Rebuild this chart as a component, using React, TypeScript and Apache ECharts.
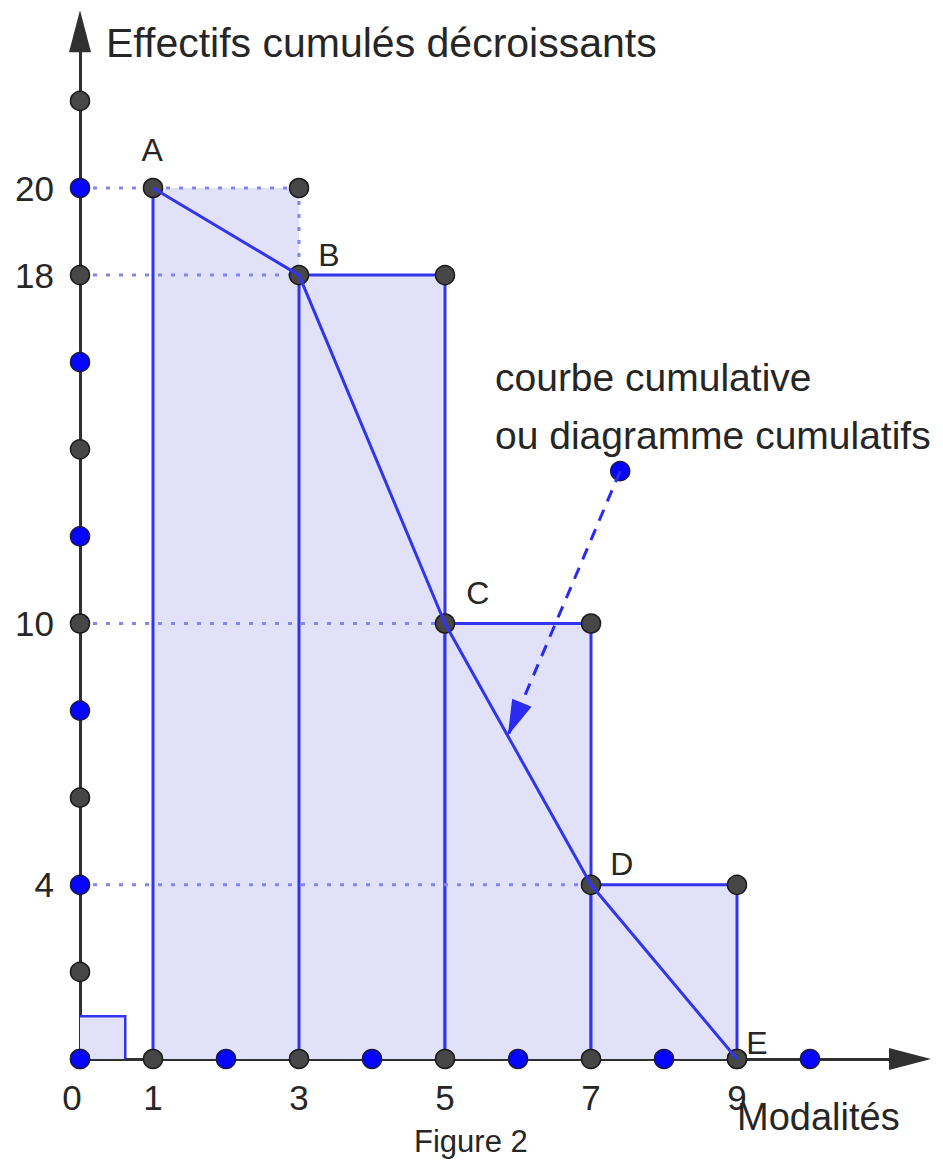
import React, { useEffect, useRef } from "react";
import * as echarts from "echarts";

// ---------- data ----------
const classBounds = [1, 3, 5, 7, 9];
const cumCounts = [20, 18, 10, 4, 0];
const pointNames = ["A", "B", "C", "D", "E"];
const xTickLabels = [0, 1, 3, 5, 7, 9];
const yTickLabels = [20, 18, 10, 4];
const xAxisDots = [0, 1, 2, 3, 4, 5, 6, 7, 8, 9, 10];
const yAxisDots = [0, 2, 4, 6, 8, 10, 12, 14, 16, 18, 20, 22];
const annotationPoint = [7.4, 13.5];
const arrowTarget = [5.86, 7.42];
const yAxisTitle = "Effectifs cumulés décroissants";
const xAxisTitle = "Modalités";
const annotationLines = ["courbe cumulative", "ou diagramme cumulatifs"];
const figureCaption = "Figure 2";

// ---------- layout / style ----------
const ORIGIN_X = 80;
const ORIGIN_Y = 1059;
const PX_X = 73;
const PX_Y = 43.55;
const X_MAX = 11.37;
const Y_MAX = 23.6;
const RIGHT_ANGLE = [0.62, 0.98];
const FONT = "'Liberation Sans', Arial, Helvetica, sans-serif";
const BLUE = "#3434ef";
const FILL = "#e1e1f9";
const GUIDE = "#8585ee";
const DARK = "#474747";
const DOT_BLUE = "#0505ff";
const TEXT = "#262626";
// label offsets (px) relative to point centre: [dx, dy, align]
const LABEL_OFFSETS: [number, number, string][] = [
  [0, -37, "center"],
  [20, -19, "left"],
  [22, -30, "left"],
  [20, -20, "left"],
  [10, -15, "left"],
];
const SYM = 19;

export default function App() {
  const ref = useRef<HTMLDivElement>(null);

  useEffect(() => {
    if (!ref.current) return;
    const chart = echarts.init(ref.current, null, { renderer: "svg" });

    const rectData = classBounds.slice(0, -1).map((x0, i) => [x0, classBounds[i + 1], cumCounts[i], i]);

    const guideSegs: number[][] = [];
    for (let i = 0; i < classBounds.length - 1; i++) {
      if (cumCounts[i] <= 0) continue;
      guideSegs.push([0, cumCounts[i], classBounds[i], cumCounts[i]]);
    }
    // dotted top & right side of first rectangle
    guideSegs.push([classBounds[0], cumCounts[0], classBounds[1], cumCounts[0]]);
    guideSegs.push([classBounds[1], cumCounts[0], classBounds[1], cumCounts[1]]);

    const curve = classBounds.map((x, i) => [x, cumCounts[i]]);
    const corners = classBounds.slice(0, -1).map((x0, i) => [classBounds[i + 1], cumCounts[i]]);

    const darkPts: number[][] = [];
    const bluePts: number[][] = [];
    xAxisDots.forEach((x) => (x % 2 === 1 ? darkPts : bluePts).push([x, 0]));
    yAxisDots.forEach((y) => (y % 4 === 0 ? bluePts : darkPts).push([0, y]));
    corners.forEach((p) => darkPts.push(p));
    bluePts.push(annotationPoint);

    const textStyle = (text: string, size: number) => ({
      text,
      fontSize: size,
      fontFamily: FONT,
      fill: TEXT,
      verticalAlign: "middle",
    });

    const option: any = {
      animation: false,
      grid: {
        left: ORIGIN_X,
        top: ORIGIN_Y - Y_MAX * PX_Y,
        width: X_MAX * PX_X,
        height: Y_MAX * PX_Y,
        outerBoundsMode: "none",
        containLabel: false,
      },
      xAxis: {
        type: "value",
        min: 0,
        max: X_MAX,
        interval: 1,
        splitLine: { show: false },
        axisTick: { show: false },
        axisLine: {
          show: true,
          onZero: false,
          symbol: ["none", "triangle"],
          symbolSize: [22, 42],
          lineStyle: { color: "#303030", width: 3 },
        },
        axisLabel: {
          show: true,
          margin: 21,
          fontSize: 35,
          fontFamily: FONT,
          color: TEXT,
          showMaxLabel: false,
          formatter: (v: number) => {
            if (!xTickLabels.includes(v)) return "";
            return v === 0 ? "{z|0}" : String(v);
          },
          rich: { z: { fontSize: 35, fontFamily: FONT, color: TEXT, padding: [0, 16, 0, 0] } },
        },
      },
      yAxis: {
        type: "value",
        min: 0,
        max: Y_MAX,
        interval: 2,
        splitLine: { show: false },
        axisTick: { show: false },
        axisLine: {
          show: true,
          onZero: false,
          symbol: ["none", "triangle"],
          symbolSize: [22, 42],
          lineStyle: { color: "#303030", width: 3 },
        },
        axisLabel: {
          show: true,
          margin: 26,
          fontSize: 35,
          fontFamily: FONT,
          color: TEXT,
          padding: [8, 0, 0, 0],
          showMaxLabel: false,
          formatter: (v: number) => (yTickLabels.includes(v) ? String(v) : ""),
        },
      },
      series: [
        {
          type: "custom",
          name: "rectangles",
          coordinateSystem: "cartesian2d",
          silent: true,
          data: rectData,
          encode: { x: [0, 1], y: 2 },
          renderItem: (params: any, api: any) => {
            const x0 = api.value(0);
            const x1 = api.value(1);
            const h = api.value(2);
            const idx = api.value(3);
            const a = api.coord([x0, 0]);
            const b = api.coord([x1, h]);
            const children: any[] = [
              {
                type: "rect",
                shape: { x: a[0], y: b[1], width: b[0] - a[0], height: a[1] - b[1] },
                style: { fill: FILL, stroke: "none" },
              },
            ];
            if (idx === 0) {
              children.push({
                type: "line",
                shape: { x1: a[0], y1: a[1], x2: a[0], y2: b[1] },
                style: { stroke: BLUE, lineWidth: 3 },
              });
            } else {
              children.push({
                type: "polyline",
                shape: { points: [[a[0], a[1]], [a[0], b[1]], [b[0], b[1]], [b[0], a[1]]] },
                style: { stroke: BLUE, lineWidth: 3, fill: "none" },
              });
            }
            return { type: "group", children };
          },
        },
        {
          type: "custom",
          name: "rightAngle",
          coordinateSystem: "cartesian2d",
          silent: true,
          data: [[0, RIGHT_ANGLE[0], RIGHT_ANGLE[1]]],
          encode: { x: [0, 1], y: 2 },
          renderItem: (params: any, api: any) => {
            const a = api.coord([api.value(0), 0]);
            const b = api.coord([api.value(1), api.value(2)]);
            return {
              type: "group",
              children: [
                {
                  type: "rect",
                  shape: { x: a[0], y: b[1], width: b[0] - a[0], height: a[1] - b[1] },
                  style: { fill: FILL },
                },
                {
                  type: "polyline",
                  shape: { points: [[a[0], b[1]], [b[0], b[1]], [b[0], a[1]]] },
                  style: { stroke: BLUE, lineWidth: 2.5, fill: "none" },
                },
              ],
            };
          },
        },
        {
          type: "custom",
          name: "guides",
          coordinateSystem: "cartesian2d",
          silent: true,
          data: guideSegs,
          encode: { x: [0, 2], y: [1, 3] },
          renderItem: (params: any, api: any) => {
            const p = api.coord([api.value(0), api.value(1)]);
            const q = api.coord([api.value(2), api.value(3)]);
            return {
              type: "line",
              shape: { x1: p[0], y1: p[1], x2: q[0], y2: q[1] },
              style: { stroke: GUIDE, lineWidth: 3, lineDash: [4, 9] },
            };
          },
        },
        {
          type: "line",
          name: "courbe",
          data: curve,
          symbol: "none",
          silent: true,
          lineStyle: { color: BLUE, width: 3 },
          markLine: {
            silent: true,
            symbol: ["none", "triangle"],
            symbolSize: [21, 36],
            symbolOffset: [0, [0, 18]],
            label: { show: false },
            lineStyle: { color: "#2a2af0", width: 3, type: [12, 9] },
            data: [[{ coord: annotationPoint }, { coord: arrowTarget }]],
          },
        },
        {
          type: "scatter",
          name: "dark",
          data: darkPts,
          symbolSize: SYM,
          silent: true,
          itemStyle: { color: DARK, borderColor: "#1a1a1a", borderWidth: 1.5, opacity: 1 },
        },
        {
          type: "scatter",
          name: "blue",
          data: bluePts,
          symbolSize: SYM,
          silent: true,
          itemStyle: { color: DOT_BLUE, borderColor: "#1a1a40", borderWidth: 1.5, opacity: 1 },
        },
        {
          type: "scatter",
          name: "points",
          symbolSize: SYM,
          silent: true,
          itemStyle: { color: DARK, borderColor: "#1a1a1a", borderWidth: 1.5, opacity: 1 },
          data: curve.map((p, i) => ({
            value: p,
            name: pointNames[i],
            label: {
              show: true,
              formatter: pointNames[i],
              position: [SYM / 2 + LABEL_OFFSETS[i][0], SYM / 2 + LABEL_OFFSETS[i][1]],
              align: LABEL_OFFSETS[i][2],
              verticalAlign: "middle",
              fontSize: 32,
              fontFamily: FONT,
              color: TEXT,
            },
          })),
        },
      ],
      graphic: [
        { type: "text", x: 106, y: 43, style: textStyle(yAxisTitle, 41) },
        { type: "text", x: 495, y: 377, style: textStyle(annotationLines[0], 39) },
        { type: "text", x: 495, y: 435, style: textStyle(annotationLines[1], 39) },
        { type: "text", x: 737, y: 1117, style: textStyle(xAxisTitle, 38) },
        { type: "text", x: 414, y: 1141, style: textStyle(figureCaption, 31) },
      ],
    };

    chart.setOption(option);
    return () => chart.dispose();
  }, []);

  return (
    <div
      ref={ref}
      style={{ position: "absolute", left: 0, top: 0, width: 943, height: 1162, background: "#fff" }}
    />
  );
}
